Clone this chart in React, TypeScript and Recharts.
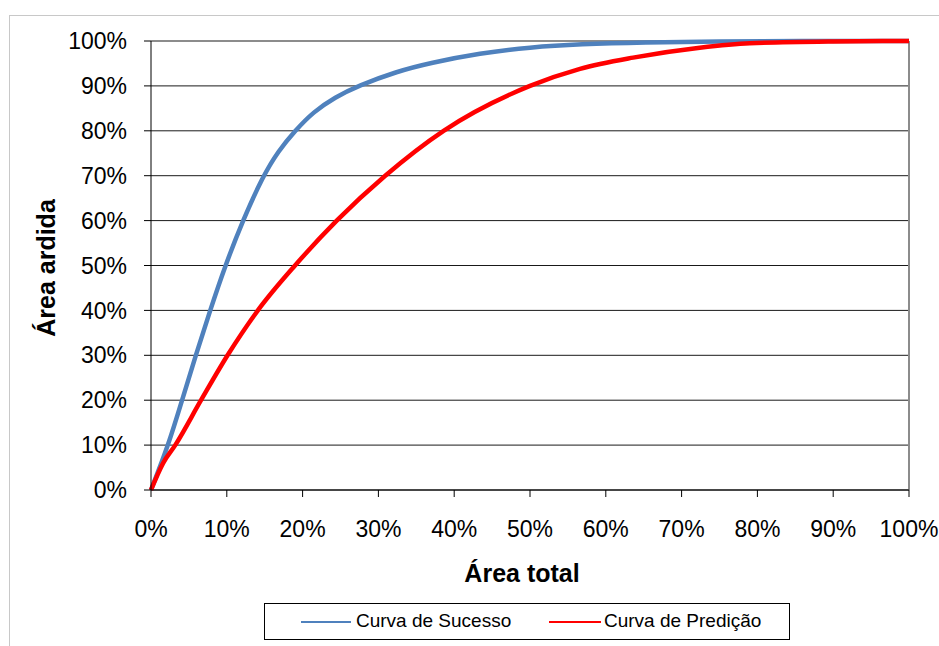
import React from "react";
import { LineChart, Line, XAxis, YAxis, CartesianGrid, ReferenceLine, Label } from "recharts";

// curve points (fractions of total area)
const sucessoX = [0, 0.023, 0.041, 0.059, 0.078, 0.098, 0.121, 0.148, 0.168, 0.19, 0.214, 0.243, 0.273, 0.324, 0.368, 0.434, 0.5, 0.566, 0.65, 0.75, 0.85, 1];
const sucessoY = [0, 0.1, 0.2, 0.3, 0.4, 0.5, 0.6, 0.7, 0.755, 0.8, 0.842, 0.875, 0.9, 0.932, 0.951, 0.973, 0.986, 0.993, 0.997, 0.999, 1, 1];

const predicaoX = [0, 0.016, 0.032, 0.066, 0.101, 0.141, 0.19, 0.245, 0.309, 0.386, 0.5, 0.566, 0.636, 0.724, 0.79, 0.9, 1];
const predicaoY = [0, 0.06, 0.1, 0.2, 0.3, 0.4, 0.5, 0.6, 0.7, 0.8, 0.9, 0.938, 0.963, 0.985, 0.995, 0.999, 1];

const ticks = [0, 0.1, 0.2, 0.3, 0.4, 0.5, 0.6, 0.7, 0.8, 0.9, 1];

const sucessoData = sucessoX.map((x, i) => ({ x, y: sucessoY[i] }));
const predicaoData = predicaoX.map((x, i) => ({ x, y: predicaoY[i] }));

const pct = (v: number) => `${Math.round(v * 100)}%`;
const font = '"Liberation Sans", Arial, sans-serif';

const App: React.FC = () => {
  return (
    <div style={{ position: "absolute", left: 0, top: 0, width: 939, height: 646, background: "#fff", fontFamily: font }}>
      <div
        style={{
          position: "absolute",
          left: 9,
          top: 15,
          right: 0,
          bottom: 0,
          borderTop: "1px solid #c8c8c8",
          borderLeft: "1px solid #c8c8c8",
        }}
      />
      <LineChart width={939} height={646} margin={{ top: 41, right: 30, bottom: 0, left: 0 }} style={{ position: "absolute", left: 0, top: 0 }}>
        <CartesianGrid vertical={false} stroke="#000" strokeOpacity={0.9} />
        <XAxis
          dataKey="x"
          type="number"
          domain={[0, 1]}
          ticks={ticks}
          tickFormatter={pct}
          height={156}
          tickSize={7}
          tickMargin={24}
          stroke="#000"
          tick={{ fill: "#000", fontSize: 23, fontFamily: font }}
          allowDuplicatedCategory={false}
        >
          <Label
            content={() => (
              <text x={522} y={582} textAnchor="middle" fontSize={25} fontWeight="bold" fontFamily={font} fill="#000">
                Área total
              </text>
            )}
          />
        </XAxis>
        <YAxis
          dataKey="y"
          type="number"
          domain={[0, 1]}
          ticks={ticks}
          tickFormatter={pct}
          width={151}
          tickSize={7}
          tickMargin={17}
          stroke="#000"
          tick={{ fill: "#000", fontSize: 23, fontFamily: font }}
        >
          <Label
            content={() => (
              <text x={55} y={268} transform="rotate(-90 55 268)" textAnchor="middle" fontSize={25} fontWeight="bold" fontFamily={font} fill="#000">
                Área ardida
              </text>
            )}
          />
        </YAxis>
        <ReferenceLine y={1} stroke="#8c8c8c" strokeWidth={2} />
        <ReferenceLine x={1} stroke="#8c8c8c" strokeWidth={2} />
        <Line data={sucessoData} dataKey="y" type="basis" stroke="#4F81BD" strokeWidth={4.5} dot={false} isAnimationActive={false} />
        <Line data={predicaoData} dataKey="y" type="monotone" stroke="#FF0000" strokeWidth={4.5} dot={false} isAnimationActive={false} />
      </LineChart>
      <div
        style={{
          position: "absolute",
          left: 264,
          top: 603,
          width: 526,
          height: 37,
          boxSizing: "border-box",
          border: "1px solid #000",
          fontSize: 19,
          color: "#000",
        }}
      >
        <div style={{ position: "absolute", left: 36, top: 17, width: 50, height: 2, background: "#4F81BD" }} />
        <div style={{ position: "absolute", left: 91, top: 7, lineHeight: "20px" }}>Curva de Sucesso</div>
        <div style={{ position: "absolute", left: 284, top: 17, width: 52, height: 2, background: "#FF0000" }} />
        <div style={{ position: "absolute", left: 339, top: 7, lineHeight: "20px" }}>Curva de Predição</div>
      </div>
    </div>
  );
};

export default App;
